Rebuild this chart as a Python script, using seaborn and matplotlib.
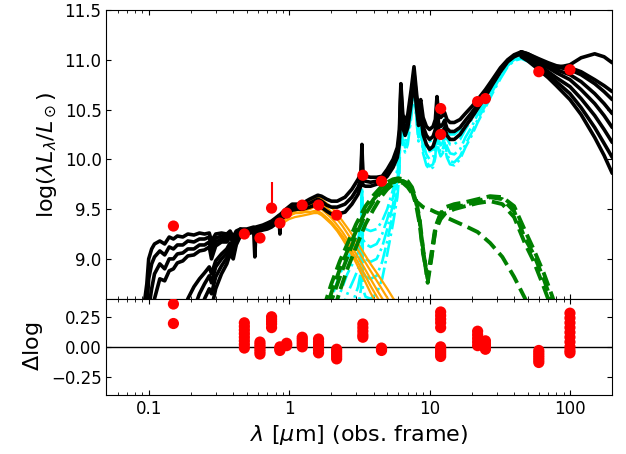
import numpy as np
import matplotlib
matplotlib.use("Agg")
import matplotlib.pyplot as plt
import seaborn as sns

# Photometry (obs. frame wavelength in micron, log lambda L_lambda)
data_lam = [0.15, 0.48, 0.62, 0.75, 0.86, 0.96, 1.24, 1.62, 2.18, 3.35, 4.55,
            12.0, 12.0, 22.0, 25.0, 60.0, 100.0]
data_logL = [9.33, 9.25, 9.21, 9.51, 9.36, 9.46, 9.54, 9.54, 9.44, 9.84, 9.78,
             10.51, 10.25, 10.58, 10.61, 10.88, 10.90]
err_lam = 0.75
err_val = 9.51
err_up = 0.26

# Residuals (one band of realizations per photometric point)
res_lam = [0.15, 0.48, 0.62, 0.75, 0.86, 0.96, 1.24, 1.62, 2.18, 3.35, 4.55,
           12.0, 12.0, 22.0, 25.0, 60.0, 100.0]
res_values = [
    [0.356, 0.194],
    [0.20, 0.17, 0.14, 0.11, 0.08, 0.05, 0.02, -0.01],
    [0.04, 0.02, 0.0, -0.02, -0.04, -0.06],
    [0.25, 0.23, 0.21, 0.19, 0.16],
    [0.0, -0.01, -0.02, -0.03],
    [0.03, 0.02, 0.01],
    [0.08, 0.06, 0.04, 0.02, 0.0],
    [0.065, 0.04, 0.02, 0.0, -0.025, -0.05],
    [-0.02, -0.04, -0.06, -0.08, -0.10],
    [0.19, 0.16, 0.13, 0.10, 0.08],
    [-0.01, -0.02, -0.03],
    [0.29, 0.26, 0.23, 0.20, 0.16],
    [0.0, -0.02, -0.04, -0.06, -0.08],
    [0.13, 0.10, 0.07, 0.04, 0.01],
    [0.05, 0.03, 0.01, -0.01, -0.02],
    [-0.03, -0.05, -0.07, -0.09, -0.11, -0.13],
    [0.28, 0.24, 0.20, 0.16, 0.12, 0.08, 0.04, 0.0, -0.03, -0.05],
]

# Total model, UV part
lam_uv = [0.09, 0.097, 0.1, 0.105, 0.11, 0.12, 0.13, 0.14, 0.15, 0.16, 0.175, 0.19,
          0.21, 0.23, 0.25, 0.27, 0.28, 0.3, 0.33, 0.36, 0.38, 0.4, 0.42, 0.45]
total_uv = [
    [8.40, 8.75, 9.00, 9.10, 9.15, 9.18, 9.15, 9.22, 9.20, 9.23, 9.22, 9.25,
     9.24, 9.26, 9.25, 9.26, 9.18, 9.25, 9.26, 9.25, 9.28, 9.22, 9.28, 9.30],
    [8.20, 8.50, 8.80, 8.95, 9.02, 9.08, 9.04, 9.12, 9.10, 9.14, 9.14, 9.18,
     9.17, 9.20, 9.20, 9.22, 9.12, 9.21, 9.23, 9.22, 9.26, 9.20, 9.26, 9.29],
    [7.90, 8.20, 8.50, 8.70, 8.85, 8.95, 8.90, 9.00, 9.00, 9.05, 9.06, 9.10,
     9.10, 9.14, 9.14, 9.17, 9.06, 9.17, 9.20, 9.19, 9.24, 9.18, 9.25, 9.28],
    [7.70, 7.90, 8.20, 8.40, 8.60, 8.80, 8.78, 8.88, 8.90, 8.96, 8.98, 9.03,
     9.04, 9.08, 9.09, 9.12, 9.00, 9.13, 9.17, 9.17, 9.22, 9.16, 9.24, 9.28],
    [7.0, 7.0, 7.0, 7.0, 7.0, 7.0, 7.0, 7.0, 7.6, 8.0, 8.40, 8.60,
     8.72, 8.80, 8.86, 8.92, 8.85, 8.98, 9.05, 9.10, 9.16, 9.10, 9.20, 9.26],
    [7.0, 7.0, 7.0, 7.0, 7.0, 7.0, 7.0, 7.0, 7.0, 7.0, 7.6, 8.20,
     8.50, 8.65, 8.75, 8.83, 8.76, 8.92, 9.00, 9.06, 9.13, 9.07, 9.18, 9.25],
    [7.0, 7.0, 7.0, 7.0, 7.0, 7.0, 7.0, 7.0, 7.0, 7.0, 7.0, 7.6,
     8.20, 8.45, 8.60, 8.70, 8.65, 8.82, 8.93, 9.01, 9.10, 9.04, 9.16, 9.24],
    [7.0, 7.0, 7.0, 7.0, 7.0, 7.0, 7.0, 7.0, 7.0, 7.0, 7.0, 7.0,
     7.6, 8.20, 8.40, 8.55, 8.50, 8.70, 8.85, 8.95, 9.05, 9.00, 9.14, 9.23],
]

# Total model, optical to mid-IR
lam_mid = [0.45, 0.5, 0.56, 0.57, 0.58, 0.65, 0.7, 0.75, 0.8, 0.85, 0.86, 0.87,
           0.95, 1.05, 1.15, 1.25, 1.4, 1.6, 1.7, 1.85, 2.0, 2.2, 2.5, 2.8,
           3.1, 3.25, 3.3, 3.35, 3.5, 3.8, 4.2, 4.6, 5.0, 5.5, 5.9, 6.1,
           6.25, 6.45, 6.7, 7.0, 7.4, 7.75, 8.1, 8.35, 8.65, 9.0, 9.5, 10.0,
           10.6, 11.0, 11.3, 11.6, 12.0, 12.4, 12.8, 13.3, 14.0, 15.0, 16.5, 18.0,
           20.0, 22.0, 25.0, 28.0, 32.0, 36.0, 40.0, 45.0]
total_mid = [
    [9.30, 9.30, 9.32, 9.30, 9.32, 9.34, 9.36, 9.38, 9.41, 9.44, 9.42, 9.45,
     9.50, 9.55, 9.55, 9.56, 9.60, 9.64, 9.63, 9.60, 9.58, 9.58, 9.62, 9.70,
     9.80, 9.86, 10.15, 9.86, 9.83, 9.82, 9.82, 9.83, 9.90, 10.00, 10.12, 10.30,
     10.76, 10.45, 10.38, 10.45, 10.70, 10.93, 10.65, 10.50, 10.60, 10.42, 10.33, 10.30,
     10.33, 10.40, 10.63, 10.45, 10.42, 10.44, 10.47, 10.40, 10.37, 10.37, 10.40, 10.46,
     10.53, 10.60, 10.70, 10.80, 10.92, 11.00, 11.05, 11.08],
    [9.27, 9.27, 9.29, 9.26, 9.29, 9.31, 9.33, 9.35, 9.38, 9.41, 9.38, 9.42,
     9.47, 9.52, 9.52, 9.53, 9.56, 9.60, 9.58, 9.54, 9.52, 9.52, 9.55, 9.62,
     9.72, 9.80, 10.08, 9.80, 9.78, 9.77, 9.78, 9.80, 9.86, 9.95, 10.06, 10.22,
     10.70, 10.38, 10.30, 10.38, 10.63, 10.87, 10.58, 10.42, 10.52, 10.33, 10.24, 10.20,
     10.23, 10.30, 10.55, 10.36, 10.33, 10.35, 10.39, 10.31, 10.28, 10.28, 10.32, 10.39,
     10.47, 10.55, 10.66, 10.77, 10.90, 10.99, 11.04, 11.07],
    [9.25, 9.25, 9.27, 9.02, 9.27, 9.29, 9.30, 9.32, 9.35, 9.38, 9.25, 9.39,
     9.44, 9.49, 9.50, 9.50, 9.52, 9.55, 9.52, 9.48, 9.45, 9.45, 9.47, 9.55,
     9.65, 9.74, 10.00, 9.74, 9.73, 9.73, 9.75, 9.78, 9.83, 9.92, 10.02, 10.16,
     10.64, 10.32, 10.24, 10.32, 10.56, 10.80, 10.50, 10.34, 10.45, 10.25, 10.15, 10.10,
     10.13, 10.20, 10.48, 10.28, 10.25, 10.27, 10.32, 10.24, 10.20, 10.20, 10.25, 10.33,
     10.42, 10.51, 10.63, 10.75, 10.88, 10.98, 11.03, 11.06],
]

# Total model, far-IR tails
lam_fir = [45, 50, 60, 70, 80, 100, 120, 150, 175, 200]
total_fir = [
    [11.06, 11.03, 10.97, 10.93, 10.92, 10.95, 11.02, 11.06, 11.03, 10.97],
    [11.08, 11.06, 11.00, 10.96, 10.93, 10.90, 10.85, 10.76, 10.68, 10.60],
    [11.07, 11.05, 10.99, 10.94, 10.90, 10.85, 10.78, 10.66, 10.56, 10.46],
    [11.06, 11.04, 10.97, 10.92, 10.87, 10.80, 10.70, 10.56, 10.44, 10.32],
    [11.05, 11.02, 10.95, 10.88, 10.82, 10.73, 10.61, 10.44, 10.30, 10.17],
    [11.04, 11.00, 10.92, 10.85, 10.78, 10.66, 10.52, 10.32, 10.16, 10.02],
    [11.03, 10.99, 10.90, 10.82, 10.74, 10.60, 10.45, 10.22, 10.04, 9.86],
    [11.08, 11.06, 11.01, 10.97, 10.94, 10.92, 10.88, 10.80, 10.74, 10.68],
]

# Stellar component
lam_star = [0.9, 1.0, 1.1, 1.2, 1.3, 1.4, 1.5, 1.6, 1.7, 1.8, 2.0, 2.2, 2.4,
            2.7, 3.0, 3.4, 3.8, 4.3, 5.0, 6.0]
stellar = [
    [9.42, 9.47, 9.50, 9.52, 9.55, 9.57, 9.60, 9.62, 9.60, 9.57, 9.52, 9.45, 9.38,
     9.28, 9.18, 9.06, 8.95, 8.84, 8.70, 8.52],
    [9.40, 9.45, 9.48, 9.50, 9.52, 9.54, 9.56, 9.58, 9.56, 9.53, 9.47, 9.40, 9.33,
     9.22, 9.12, 8.99, 8.88, 8.76, 8.61, 8.42],
    [9.38, 9.43, 9.46, 9.47, 9.49, 9.50, 9.52, 9.53, 9.50, 9.47, 9.41, 9.34, 9.27,
     9.16, 9.05, 8.92, 8.80, 8.67, 8.52, 8.33],
    [9.40, 9.44, 9.46, 9.46, 9.47, 9.47, 9.48, 9.48, 9.46, 9.43, 9.37, 9.30, 9.23,
     9.12, 9.00, 8.86, 8.73, 8.60, 8.44, 8.25],
    [9.36, 9.40, 9.42, 9.43, 9.44, 9.45, 9.46, 9.46, 9.44, 9.41, 9.35, 9.28, 9.20,
     9.08, 8.96, 8.80, 8.66, 8.52, 8.35, 8.15],
]

# Dust (starburst) component
lam_dust = [1.8, 2.0, 2.3, 2.6, 2.9, 3.1, 3.25, 3.3, 3.35, 3.5, 3.8, 4.2, 4.6,
            5.0, 5.5, 5.9, 6.1, 6.25, 6.45, 6.7, 7.0, 7.4, 7.75, 8.1, 8.35,
            8.65, 9.0, 9.5, 10.0, 10.6, 11.0, 11.3, 11.6, 12.0, 12.4, 12.8,
            13.3, 14.0, 15.0, 16.5, 18.0, 20.0, 22.0, 25.0, 28.0, 32.0, 36.0,
            40.0, 45.0, 55.0]
dust = [
    [8.40, 8.60, 8.85, 9.00, 9.12, 9.20, 9.35, 9.82, 9.35, 9.30, 9.28, 9.30, 9.38,
     9.50, 9.70, 9.90, 10.15, 10.72, 10.40, 10.32, 10.40, 10.66, 10.90, 10.60, 10.44,
     10.55, 10.33, 10.22, 10.18, 10.20, 10.30, 10.58, 10.36, 10.32, 10.35, 10.40,
     10.30, 10.25, 10.25, 10.30, 10.38, 10.47, 10.56, 10.67, 10.78, 10.90, 10.99,
     11.04, 11.06, 11.02],
    [8.20, 8.40, 8.65, 8.85, 8.98, 9.06, 9.20, 9.75, 9.20, 9.15, 9.12, 9.15, 9.25,
     9.40, 9.62, 9.84, 10.08, 10.66, 10.33, 10.25, 10.33, 10.60, 10.84, 10.53, 10.36,
     10.47, 10.25, 10.13, 10.08, 10.10, 10.20, 10.50, 10.28, 10.23, 10.26, 10.32,
     10.21, 10.15, 10.15, 10.20, 10.30, 10.40, 10.50, 10.62, 10.74, 10.87, 10.97,
     11.02, 11.04, 11.00],
    [7.90, 8.15, 8.45, 8.65, 8.80, 8.90, 9.05, 9.68, 9.05, 9.00, 8.97, 9.00, 9.12,
     9.30, 9.55, 9.78, 10.00, 10.60, 10.26, 10.18, 10.26, 10.53, 10.78, 10.46, 10.28,
     10.40, 10.17, 10.05, 10.00, 10.02, 10.12, 10.43, 10.20, 10.14, 10.17, 10.24,
     10.13, 10.06, 10.05, 10.10, 10.22, 10.33, 10.45, 10.58, 10.71, 10.85, 10.96,
     11.01, 11.03, 10.98],
    [7.60, 7.90, 8.20, 8.45, 8.60, 8.72, 8.88, 9.60, 8.88, 8.82, 8.80, 8.83, 8.97,
     9.18, 9.46, 9.70, 9.93, 10.55, 10.20, 10.12, 10.20, 10.47, 10.72, 10.40, 10.22,
     10.33, 10.10, 9.98, 9.93, 9.95, 10.05, 10.37, 10.13, 10.07, 10.10, 10.17,
     10.06, 9.98, 9.97, 10.03, 10.15, 10.27, 10.40, 10.54, 10.68, 10.83, 10.94,
     11.00, 11.02, 10.97],
    [7.30, 7.60, 7.95, 8.20, 8.40, 8.52, 8.70, 9.50, 8.70, 8.62, 8.60, 8.65, 8.80,
     9.05, 9.36, 9.62, 9.86, 10.50, 10.15, 10.07, 10.15, 10.42, 10.68, 10.36, 10.18,
     10.29, 10.06, 9.94, 9.90, 9.92, 10.02, 10.33, 10.09, 10.03, 10.06, 10.13,
     10.02, 9.95, 9.94, 10.00, 10.12, 10.24, 10.37, 10.52, 10.66, 10.81, 10.93,
     10.99, 11.01, 10.96],
]

# AGN torus component
lam_agn = [1.6, 1.8, 2.0, 2.3, 2.6, 3.0, 3.5, 4.0, 4.5, 5.0, 5.5, 6.0, 6.5, 7.0,
           7.5, 8.0, 8.5, 9.0, 9.7, 10.3, 11.0, 12.0, 13.0, 15.0, 18.0, 22.0,
           27.0, 33.0, 40.0, 48.0, 55.0, 65.0, 75.0, 85.0]
agn = [
    [8.30, 8.55, 8.75, 8.98, 9.15, 9.35, 9.53, 9.64, 9.72, 9.77, 9.80, 9.81, 9.80,
     9.78, 9.72, 9.60, 9.40, 9.10, 8.76, 9.00, 9.30, 9.45, 9.50, 9.52, 9.54, 9.58,
     9.62, 9.60, 9.48, 9.20, 9.05, 8.80, 8.55, 8.30],
    [7.90, 8.15, 8.40, 8.68, 8.90, 9.12, 9.35, 9.50, 9.62, 9.70, 9.75, 9.78, 9.78,
     9.76, 9.70, 9.58, 9.38, 9.08, 8.80, 9.02, 9.28, 9.40, 9.46, 9.50, 9.53, 9.56,
     9.58, 9.55, 9.42, 9.15, 8.98, 8.72, 8.48, 8.22],
    [8.10, 8.35, 8.58, 8.82, 9.02, 9.24, 9.45, 9.58, 9.67, 9.73, 9.77, 9.79, 9.78,
     9.75, 9.68, 9.55, 9.35, 9.05, 8.82, 9.05, 9.32, 9.46, 9.52, 9.55, 9.57, 9.60,
     9.63, 9.62, 9.53, 9.28, 9.10, 8.86, 8.62, 8.38],
    [8.20, 8.45, 8.66, 8.90, 9.08, 9.28, 9.48, 9.60, 9.68, 9.74, 9.77, 9.78, 9.76,
     9.72, 9.66, 9.58, 9.55, 9.52, 9.50, 9.49, 9.47, 9.45, 9.42, 9.38, 9.33, 9.27,
     9.16, 9.02, 8.82, 8.60, 8.35, 8.05, 7.75, 7.45],
]

sns.set_style("ticks")
plt.rcParams['font.family'] = ['DejaVu Sans']
plt.rcParams['mathtext.fontset'] = 'dejavusans'
plt.rcParams['text.color'] = 'black'
plt.rcParams['axes.labelcolor'] = 'black'
plt.rcParams['xtick.color'] = 'black'
plt.rcParams['ytick.color'] = 'black'

fig, (ax, axr) = plt.subplots(2, 1, figsize=(6.26, 4.54), dpi=100, sharex=True,
                              gridspec_kw={'height_ratios': [3, 1]})
fig.subplots_adjust(left=0.17, right=0.978, top=0.978, bottom=0.13, hspace=0)

# model components
for vals in dust:
    sns.lineplot(x=lam_dust, y=vals, ax=ax, color='cyan', lw=1.9, linestyle='-.',
                 sort=False, estimator=None, legend=False)
for vals in stellar:
    sns.lineplot(x=lam_star, y=vals, ax=ax, color='orange', lw=1.6,
                 sort=False, estimator=None, legend=False)
for vals in agn:
    sns.lineplot(x=lam_agn, y=vals, ax=ax, color='green', lw=2.8, linestyle='--',
                 sort=False, estimator=None, legend=False)
for vals in total_uv:
    sns.lineplot(x=lam_uv, y=vals, ax=ax, color='black', lw=2.6,
                 sort=False, estimator=None, legend=False)
for vals in total_mid:
    sns.lineplot(x=lam_mid, y=vals, ax=ax, color='black', lw=2.6,
                 sort=False, estimator=None, legend=False)
for vals in total_fir:
    sns.lineplot(x=lam_fir, y=vals, ax=ax, color='black', lw=2.6,
                 sort=False, estimator=None, legend=False)

# data
ax.errorbar([err_lam], [err_val], yerr=[[0.0], [err_up]], fmt='none',
            ecolor='red', elinewidth=1.5, zorder=9)
sns.scatterplot(x=data_lam, y=data_logL, ax=ax, color='red', s=65,
                edgecolor='none', zorder=10, legend=False)

ax.set_xscale('log')
ax.set_xlim(0.05, 200)
ax.set_ylim(8.6, 11.5)
ax.set_yticks([9.0, 9.5, 10.0, 10.5, 11.0, 11.5])
ax.set_ylabel(r'log$(\lambda L_\lambda/L_\odot)$', fontsize=16)

# residuals
rx = [lam for lam, vals in zip(res_lam, res_values) for v in vals]
ry = [v for vals in res_values for v in vals]
axr.axhline(0, color='black', lw=1)
sns.scatterplot(x=rx, y=ry, ax=axr, color='red', s=65, edgecolor='none',
                zorder=10, legend=False)
axr.set_ylim(-0.4, 0.4)
axr.set_yticks([-0.25, 0.0, 0.25])
axr.set_ylabel(r'$\Delta$log', fontsize=16)
axr.set_xticks([0.1, 1, 10, 100])
axr.set_xticklabels(['0.1', '1', '10', '100'])
axr.set_xlabel(r'$\lambda$ [$\mu$m] (obs. frame)', fontsize=16)

for a in (ax, axr):
    a.tick_params(which='both', direction='in', top=True, right=True,
                  labelsize=12, colors='black')
    for s in a.spines.values():
        s.set_color('black')
ax.tick_params(labelbottom=False)

fig.savefig('out.png', dpi=100)
